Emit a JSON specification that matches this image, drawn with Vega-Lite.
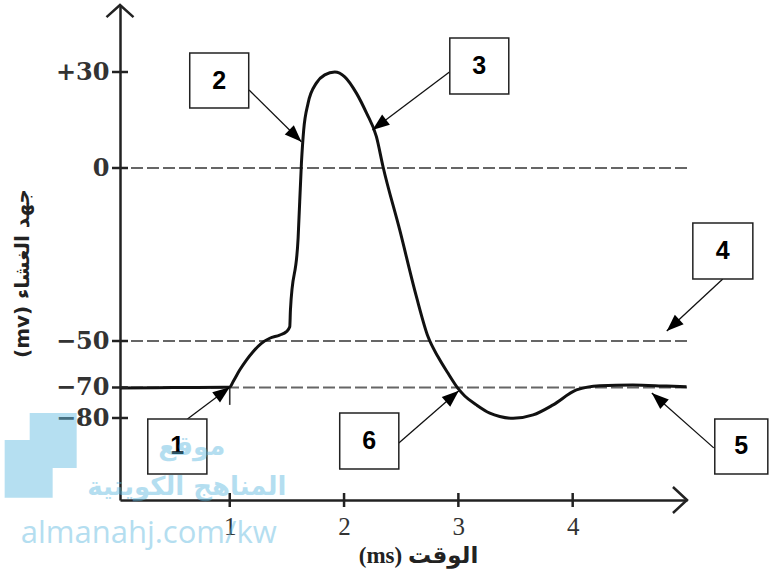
{
  "$schema": "https://vega.github.io/schema/vega-lite/v6.json",
  "width": 567,
  "height": 495,
  "autosize": "none",
  "padding": {"left": 120, "top": 5, "right": 82, "bottom": 73},
  "background": "white",
  "config": {"view": {"stroke": null}, "axis": {"grid": false}},
  "datasets": {
    "curve": [
      {"t": 0.04, "mv": -70.2}, {"t": 0.5, "mv": -70.0}, {"t": 0.95, "mv": -69.9}, {"t": 1.0, "mv": -69.8},
      {"t": 1.029, "mv": -67.5}, {"t": 1.087, "mv": -62.5}, {"t": 1.146, "mv": -58.2}, {"t": 1.204, "mv": -54.6},
      {"t": 1.277, "mv": -51.0}, {"t": 1.35, "mv": -49.2}, {"t": 1.437, "mv": -48.3}, {"t": 1.496, "mv": -47.3},
      {"t": 1.525, "mv": -45.9}, {"t": 1.531, "mv": -41.0}, {"t": 1.598, "mv": -20.3}, {"t": 1.627, "mv": 1.5},
      {"t": 1.647, "mv": 11.9}, {"t": 1.685, "mv": 20.2}, {"t": 1.759, "mv": 26.6}, {"t": 1.831, "mv": 29.1},
      {"t": 1.919, "mv": 30.0}, {"t": 2.006, "mv": 28.5}, {"t": 2.108, "mv": 23.4}, {"t": 2.196, "mv": 17.2},
      {"t": 2.283, "mv": 9.8}, {"t": 2.341, "mv": 0.4}, {"t": 2.487, "mv": -17.9}, {"t": 2.633, "mv": -37.2},
      {"t": 2.735, "mv": -48.8}, {"t": 2.822, "mv": -56.8}, {"t": 2.91, "mv": -63.9},
      {"t": 2.997, "mv": -70.3}, {"t": 3.056, "mv": -72.8}, {"t": 3.158, "mv": -75.7}, {"t": 3.275, "mv": -78.4},
      {"t": 3.362, "mv": -79.5}, {"t": 3.479, "mv": -80.1}, {"t": 3.654, "mv": -79.0}, {"t": 3.829, "mv": -75.7},
      {"t": 4.033, "mv": -70.8}, {"t": 4.237, "mv": -69.2}, {"t": 4.526, "mv": -68.9}, {"t": 4.821, "mv": -69.4},
      {"t": 4.996, "mv": -69.7}
    ],
    "levels": [{"mv": 0}, {"mv": -50}, {"mv": -70}],
    "yticks": [{"mv": 30}, {"mv": 0}, {"mv": -50}, {"mv": -70}, {"mv": -80}],
    "xticks": [{"t": 1}, {"t": 2}, {"t": 3}, {"t": 4}],
    "marker": [{"t": 1.0, "mv": -70, "mv2": -75.7}],
    "arrows": [
      {"n": "1", "t": 0.63, "mv": -80.3, "t2": 1.0, "mv2": -69.9, "ang": 53.2},
      {"n": "2", "t": 1.169, "mv": 24.4, "t2": 1.627, "mv2": 8.2, "ang": 134.6},
      {"n": "3", "t": 2.925, "mv": 30.1, "t2": 2.248, "mv2": 11.9, "ang": -127},
      {"n": "4", "t": 5.313, "mv": -32.1, "t2": 4.823, "mv2": -47.1, "ang": -132.9},
      {"n": "5", "t": 5.234, "mv": -89.8, "t2": 4.692, "mv2": -71.8, "ang": -48.4},
      {"n": "6", "t": 2.479, "mv": -88.2, "t2": 3.004, "mv2": -71.1, "ang": 49.1}
    ],
    "boxes": [
      {"n": "1", "t": 0.283, "t2": 0.8, "mv": -80.3, "mv2": -98.4},
      {"n": "2", "t": 0.65, "t2": 1.166, "mv": 35.9, "mv2": 18.75},
      {"n": "3", "t": 2.925, "t2": 3.441, "mv": 40.6, "mv2": 23.1},
      {"n": "4", "t": 5.051, "t2": 5.576, "mv": -15.9, "mv2": -32.1},
      {"n": "5", "t": 5.243, "t2": 5.707, "mv": -80.3, "mv2": -98.4},
      {"n": "6", "t": 1.962, "t2": 2.479, "mv": -78.4, "mv2": -96.7}
    ],
    "labels": [
      {"n": "1", "t": 0.541, "mv": -89.3},
      {"n": "2", "t": 0.908, "mv": 27.3},
      {"n": "3", "t": 3.183, "mv": 31.9},
      {"n": "4", "t": 5.313, "mv": -24.0},
      {"n": "5", "t": 5.475, "mv": -89.3},
      {"n": "6", "t": 2.22, "mv": -87.5}
    ],
    "logo": [
      {"t": -0.75, "t2": -0.339, "mv": -78.4, "mv2": -87.2},
      {"t": -0.969, "t2": -0.339, "mv": -87.2, "mv2": -96.4},
      {"t": -0.969, "t2": -0.549, "mv": -96.4, "mv2": -106.2}
    ],
    "wmLatin": [{"s": "almanahj.com/kw", "t": 0.291, "mv": -121.0}],
    "wmArabic": [
      {"s": "موقع", "t": 0.668, "mv": -89.5},
      {"s": "المناهج الكويتية", "t": 0.625, "mv": -102.6}
    ]
  },
  "layer": [
    {
      "data": {"name": "levels"},
      "mark": {"type": "rule", "color": "#666", "strokeWidth": 2.2, "strokeDash": [12, 4]},
      "encoding": {
        "y": {
          "field": "mv", "type": "quantitative",
          "scale": {"domain": [-106.9, -80, -70, -50, 0, 30, 50.9], "range": [495, 413, 382.5, 336, 163, 67, 0], "nice": false, "zero": false},
          "axis": {
            "values": [30, 0, -50, -70, -80],
            "domain": true, "domainColor": "#222", "domainWidth": 2.5,
            "ticks": false, "grid": false,
            "labelFont": "DejaVu Serif", "labelFontWeight": "bold", "labelFontSize": 24, "labelColor": "#333",
            "labelPadding": 11, "labelOverlap": false, "labelFlush": false,
            "labelExpr": "datum.value > 0 ? '+' + datum.value : (datum.value < 0 ? '−' + abs(datum.value) : '0')",
            "title": "(mv) جهد الغشاء",
            "titleFont": "DejaVu Sans", "titleFontWeight": "bold", "titleFontSize": 20, "titleColor": "#222",
            "titleAngle": -90, "titleX": -98, "titleY": 268, "titleAlign": "center", "titleBaseline": "middle"
          }
        }
      }
    },
    {
      "data": {"name": "curve"},
      "mark": {"type": "line", "color": "#111", "strokeWidth": 3, "interpolate": "monotone"},
      "encoding": {
        "x": {
          "field": "t", "type": "quantitative",
          "scale": {"domain": [0.04, 5.0], "nice": false, "zero": false},
          "axis": {
            "values": [1, 2, 3, 4], "format": "d",
            "domain": true, "domainColor": "#222", "domainWidth": 2.5,
            "ticks": false, "grid": false,
            "labelFont": "Liberation Serif", "labelFontSize": 25, "labelColor": "#333", "labelPadding": 14, "labelFlush": false,
            "title": "(ms) الوقت",
            "titleFont": "Liberation Serif, DejaVu Sans", "titleFontWeight": "bold", "titleFontSize": 23, "titleColor": "#222",
            "titleX": 298, "titleY": 62, "titleAlign": "center", "titleBaseline": "alphabetic"
          }
        },
        "y": {"field": "mv", "type": "quantitative"}
      }
    },
    {
      "data": {"name": "yticks"},
      "mark": {"type": "tick", "orient": "horizontal", "size": 16, "thickness": 2.5, "color": "#222", "opacity": 1},
      "encoding": {
        "x": {"datum": 0.04, "type": "quantitative"},
        "y": {"field": "mv", "type": "quantitative"}
      }
    },
    {
      "data": {"name": "xticks"},
      "mark": {"type": "tick", "orient": "vertical", "size": 14, "thickness": 2.5, "color": "#222", "opacity": 1},
      "encoding": {
        "x": {"field": "t", "type": "quantitative"},
        "y": {"datum": -106.9, "type": "quantitative"}
      }
    },
    {
      "data": {"name": "marker"},
      "mark": {"type": "rule", "color": "#333", "strokeWidth": 1.6},
      "encoding": {
        "x": {"field": "t", "type": "quantitative"},
        "y": {"field": "mv", "type": "quantitative"},
        "y2": {"field": "mv2"}
      }
    },
    {
      "data": {"values": [{"t": 0.04, "mv": 50.9}]},
      "mark": {"type": "point", "shape": "M-1,0.9L0,0L1,0.9", "size": 729, "filled": false, "stroke": "#222", "strokeWidth": 2.5, "opacity": 1},
      "encoding": {
        "x": {"field": "t", "type": "quantitative"},
        "y": {"field": "mv", "type": "quantitative"}
      }
    },
    {
      "data": {"values": [{"t": 5.0, "mv": -106.9}]},
      "mark": {"type": "point", "shape": "M-1.04,-0.96L0,0L-1.04,0.96", "size": 729, "filled": false, "stroke": "#222", "strokeWidth": 2.5, "opacity": 1},
      "encoding": {
        "x": {"field": "t", "type": "quantitative"},
        "y": {"field": "mv", "type": "quantitative"}
      }
    },
    {
      "data": {"name": "arrows"},
      "mark": {"type": "rule", "color": "#111", "strokeWidth": 1.3},
      "encoding": {
        "x": {"field": "t", "type": "quantitative"},
        "y": {"field": "mv", "type": "quantitative"},
        "x2": {"field": "t2"},
        "y2": {"field": "mv2"}
      }
    },
    {
      "data": {"name": "arrows"},
      "mark": {"type": "point", "shape": "M0,0L-0.38,1L0.38,1Z", "size": 1156, "filled": true, "color": "#000", "opacity": 1},
      "encoding": {
        "x": {"field": "t2", "type": "quantitative"},
        "y": {"field": "mv2", "type": "quantitative"},
        "angle": {"field": "ang", "type": "quantitative", "scale": null}
      }
    },
    {
      "data": {"name": "boxes"},
      "mark": {"type": "rect", "fill": "white", "stroke": "#222", "strokeWidth": 1.5},
      "encoding": {
        "x": {"field": "t", "type": "quantitative"},
        "x2": {"field": "t2"},
        "y": {"field": "mv", "type": "quantitative"},
        "y2": {"field": "mv2"}
      }
    },
    {
      "data": {"name": "labels"},
      "mark": {"type": "text", "font": "Liberation Sans", "fontWeight": "bold", "fontSize": 25, "align": "center", "baseline": "middle", "color": "#000"},
      "encoding": {
        "x": {"field": "t", "type": "quantitative"},
        "y": {"field": "mv", "type": "quantitative"},
        "text": {"field": "n"}
      }
    },
    {
      "data": {"name": "logo"},
      "mark": {"type": "rect", "color": "#5bb8e0", "opacity": 0.45},
      "encoding": {
        "x": {"field": "t", "type": "quantitative"},
        "x2": {"field": "t2"},
        "y": {"field": "mv", "type": "quantitative"},
        "y2": {"field": "mv2"}
      }
    },
    {
      "data": {"name": "wmLatin"},
      "mark": {"type": "text", "font": "Open Sans", "fontSize": 31, "align": "center", "baseline": "alphabetic", "color": "#5bb8e0", "opacity": 0.45},
      "encoding": {
        "x": {"field": "t", "type": "quantitative"},
        "y": {"field": "mv", "type": "quantitative"},
        "text": {"field": "s"}
      }
    },
    {
      "data": {"name": "wmArabic"},
      "mark": {"type": "text", "font": "DejaVu Sans", "fontWeight": "bold", "fontSize": 26, "align": "center", "baseline": "middle", "color": "#5bb8e0", "opacity": 0.45},
      "encoding": {
        "x": {"field": "t", "type": "quantitative"},
        "y": {"field": "mv", "type": "quantitative"},
        "text": {"field": "s"}
      }
    }
  ]
}
